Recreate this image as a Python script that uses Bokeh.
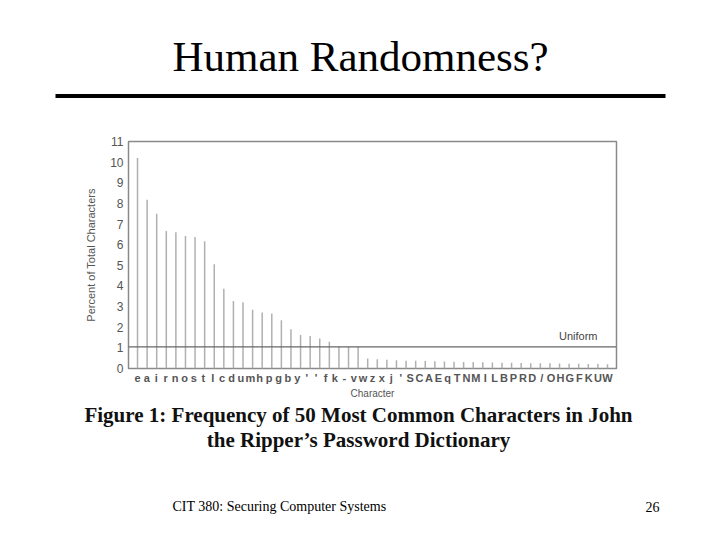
from bokeh.plotting import figure
from bokeh.models import (Span, Label, BoxAnnotation, LinearAxis, Range1d,
                          FixedTicker)
from bokeh.layouts import column
from bokeh.embed import file_html
from bokeh.resources import INLINE

# ---------------- data ----------------
characters = ["e", "a", "i", "r", "n", "o", "s", "t", "l", "c", "d", "u", "m",
              "h", "p", "g", "b", "y", "'", "'", "f", "k", "-", "v", "w", "z",
              "x", "j", "'", "S", "C", "A", "E", "q", "T", "N", "M", "I", "L",
              "B", "P", "R", "D", "/", "O", "H", "G", "F", "K", "U", "W"]
percent = [10.2, 8.18, 7.5, 6.66, 6.6, 6.42, 6.37, 6.17, 5.05, 3.87, 3.27,
           3.21, 2.85, 2.71, 2.66, 2.34, 1.9, 1.62, 1.57, 1.45, 1.3, 1.07,
           1.06, 1.05,
           0.48, 0.45, 0.42, 0.40, 0.38, 0.37, 0.36, 0.35, 0.34, 0.33, 0.32,
           0.31, 0.30, 0.29, 0.28, 0.28, 0.27, 0.26, 0.25, 0.25, 0.24, 0.23,
           0.23, 0.22, 0.22, 0.21]
uniform = 1.05
y_ticks = list(range(0, 12))

slide_title = "Human Randomness?"
caption_1 = "Figure 1: Frequency of 50 Most Common Characters in John"
caption_2 = "the Ripper\u2019s Password Dictionary"
footer = "CIT 380: Securing Computer Systems"
page_no = "26"

# ---------------- geometry ----------------
W = 712
TOP_H = 130          # title band
CH_TOP, CH_BOT = 130, 401
FL, FR, FT, FB = 128, 616, 141, 368   # chart frame (page pixels)
BOT_TOP, BOT_BOT = 401, 532


def blank(height, y0, y1):
    f = figure(width=W, height=height, output_backend="svg",
               toolbar_location=None, x_axis_type=None, y_axis_type=None,
               x_range=Range1d(0, W), y_range=Range1d(y1, y0),
               min_border=0, frame_align=False)
    f.outline_line_color = None
    f.background_fill_color = "white"
    f.border_fill_color = "white"
    f.xgrid.visible = False
    f.ygrid.visible = False
    return f


# ---------------- top band: title + rule ----------------
top = blank(TOP_H, 0, TOP_H)
top.add_layout(Label(x=360, y=56, text=slide_title,
                     text_align="center", text_baseline="middle",
                     text_font="Liberation Serif", text_font_size="43px",
                     text_color="black"))
top.add_layout(BoxAnnotation(left=55, right=665, top=93.5, bottom=97.5,
                             fill_color="black", fill_alpha=1.0,
                             line_color=None))

# ---------------- chart ----------------
x_start, x_end = -0.94, len(percent) - 1 + 0.94
p = figure(width=W, height=CH_BOT - CH_TOP, output_backend="svg",
           toolbar_location=None, frame_align=False,
           x_range=Range1d(x_start, x_end), y_range=Range1d(0, 11),
           min_border_left=FL, min_border_right=W - FR,
           min_border_top=FT - CH_TOP, min_border_bottom=CH_BOT - FB)
p.background_fill_color = "white"
p.border_fill_color = "white"
p.outline_line_color = "#8a8a8a"
p.outline_line_width = 1.5
p.xgrid.visible = False
p.ygrid.visible = False
p.xaxis.visible = False

n_lab = len(characters)
n_bar = len(percent)
scale = (n_lab - 1) / (n_bar - 1)
p.extra_x_ranges = {"labels": Range1d(x_start * scale, x_end * scale)}
lab_axis = LinearAxis(x_range_name="labels",
                      ticker=FixedTicker(ticks=list(range(n_lab))),
                      major_label_overrides={i: c for i, c in enumerate(characters)},
                      axis_label="Character")
lab_axis.axis_line_color = None
lab_axis.major_tick_line_color = None
lab_axis.minor_tick_line_color = None
lab_axis.major_tick_out = 0
lab_axis.major_tick_in = 0
lab_axis.major_label_standoff = 3
lab_axis.major_label_text_font = "Liberation Sans"
lab_axis.major_label_text_font_size = "11px"
lab_axis.major_label_text_font_style = "bold"
lab_axis.major_label_text_color = "#555555"
lab_axis.axis_label_text_font = "Liberation Sans"
lab_axis.axis_label_text_font_size = "10px"
lab_axis.axis_label_text_font_style = "normal"
lab_axis.axis_label_text_color = "#555555"
lab_axis.axis_label_standoff = 1
p.add_layout(lab_axis, "below")

ya = p.yaxis[0]
ya.ticker = FixedTicker(ticks=y_ticks)
ya.axis_line_color = None
ya.major_tick_line_color = None
ya.minor_tick_line_color = None
ya.major_tick_out = 0
ya.major_tick_in = 0
ya.major_label_standoff = 5
ya.major_label_text_font = "Liberation Sans"
ya.major_label_text_font_size = "12px"
ya.major_label_text_color = "#555555"
ya.axis_label = "Percent of Total Characters"
ya.axis_label_text_font = "Liberation Sans"
ya.axis_label_text_font_size = "11px"
ya.axis_label_text_font_style = "normal"
ya.axis_label_text_color = "#555555"
ya.axis_label_standoff = 10

xs = list(range(n_bar))
p.segment(x0=xs, y0=[0] * n_bar, x1=xs, y1=percent,
          line_color="#b0b0b0", line_width=1.5)

p.add_layout(Span(location=uniform, dimension="width",
                  line_color="#666666", line_width=1.2))
p.add_layout(Label(x=x_end, x_offset=-19, y=uniform, y_offset=5,
                   text="Uniform",
                   text_align="right", text_baseline="bottom",
                   text_font="Liberation Sans", text_font_size="11px",
                   text_color="#444444"))

# ---------------- bottom band: caption + footer ----------------
bot = blank(BOT_BOT - BOT_TOP, BOT_TOP, BOT_BOT)
for txt, yc in ((caption_1, 414), (caption_2, 439)):
    bot.add_layout(Label(x=358, y=yc, text=txt,
                         text_align="center", text_baseline="middle",
                         text_font="Liberation Serif", text_font_size="21px",
                         text_font_style="bold", text_color="#111111"))
bot.add_layout(Label(x=172, y=506, text=footer,
                     text_align="left", text_baseline="middle",
                     text_font="Liberation Serif", text_font_size="14px",
                     text_color="black"))
bot.add_layout(Label(x=645, y=506, text=page_no,
                     text_align="left", text_baseline="middle",
                     text_font="Liberation Serif", text_font_size="14px",
                     text_color="black"))

layout = column(top, p, bot, spacing=0)
open("out.html", "w").write(file_html(layout, INLINE))
